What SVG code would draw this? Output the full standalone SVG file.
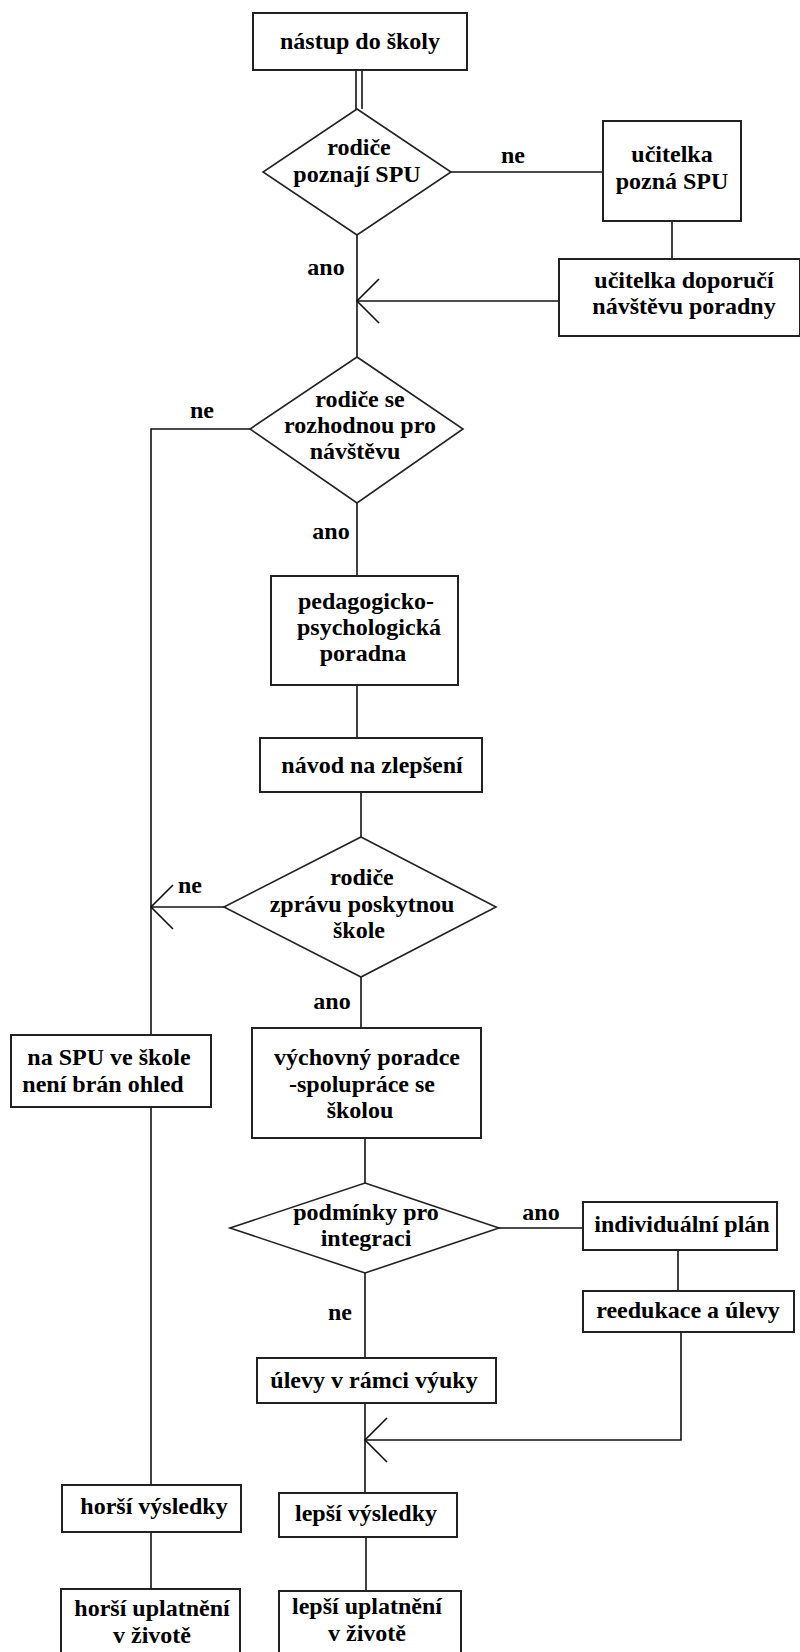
<svg xmlns="http://www.w3.org/2000/svg" width="800" height="1652" viewBox="0 0 800 1652">
<style>
.b{fill:#fff;stroke:#222;stroke-width:2}
.d{fill:#fff;stroke:#222;stroke-width:1.6}
.l{fill:none;stroke:#111;stroke-width:1.6}
.t{font-family:'Liberation Serif','DejaVu Serif',serif;font-weight:700;font-size:24px;fill:#000;text-anchor:middle}
</style>
<rect width="800" height="1652" fill="#fff"/>
<g id="connectors">
<line class="l" x1="356" y1="70" x2="356" y2="109"/>
<line class="l" x1="362" y1="70" x2="362" y2="109"/>
<line class="l" x1="451" y1="172" x2="603" y2="172"/>
<line class="l" x1="672" y1="221" x2="672" y2="259"/>
<line class="l" x1="357" y1="235" x2="357" y2="357"/>
<line class="l" x1="559" y1="301" x2="357" y2="301"/>
<polyline class="l" points="379,279 357,301 379,323"/>
<polyline class="l" points="250,429 151,429 151,1035"/>
<line class="l" x1="357" y1="503" x2="357" y2="576"/>
<line class="l" x1="357" y1="685" x2="357" y2="738"/>
<line class="l" x1="361" y1="792" x2="361" y2="837"/>
<line class="l" x1="224" y1="907" x2="151" y2="907"/>
<polyline class="l" points="173,885 151,907 173,929"/>
<line class="l" x1="361" y1="977" x2="361" y2="1028"/>
<line class="l" x1="365" y1="1138" x2="365" y2="1183"/>
<line class="l" x1="499" y1="1228" x2="583" y2="1228"/>
<line class="l" x1="678" y1="1250" x2="678" y2="1291"/>
<line class="l" x1="365" y1="1273" x2="365" y2="1358"/>
<line class="l" x1="365" y1="1403" x2="365" y2="1493"/>
<polyline class="l" points="681,1332 681,1440 365,1440"/>
<polyline class="l" points="387,1418 365,1440 387,1462"/>
<line class="l" x1="366" y1="1537" x2="366" y2="1591"/>
<line class="l" x1="151" y1="1107" x2="151" y2="1485"/>
<line class="l" x1="151" y1="1532" x2="151" y2="1589"/>
<g class="t" font-family="Liberation Serif, DejaVu Serif, serif" font-weight="bold">
<text x="513" y="163">ne</text>
<text x="326" y="275">ano</text>
<text x="202" y="418">ne</text>
<text x="331" y="539">ano</text>
<text x="190" y="893">ne</text>
<text x="332" y="1009">ano</text>
<text x="541" y="1220">ano</text>
<text x="340" y="1320">ne</text>
</g>
</g>
<g class="t" font-family="Liberation Serif, DejaVu Serif, serif" font-weight="bold">
<g id="n1"><rect class="b" x="253" y="13" width="214" height="57"/><text x="360" y="49">nástup do školy</text></g>
<g id="n2"><polygon class="d" points="357,109 451,172 357,235 263,172"/><text x="359" y="155">rodiče</text><text x="357" y="182">poznají SPU</text></g>
<g id="n3"><rect class="b" x="603" y="121" width="138" height="100"/><text x="672" y="162">učitelka</text><text x="672" y="189">pozná SPU</text></g>
<g id="n4"><rect class="b" x="559" y="259" width="241" height="77"/><text x="684" y="288">učitelka doporučí</text><text x="684" y="314">návštěvu poradny</text></g>
<g id="n5"><polygon class="d" points="357,357 463,429 357,503 250,429"/><text x="360" y="407">rodiče se</text><text x="360" y="433">rozhodnou pro</text><text x="355" y="459">návštěvu</text></g>
<g id="n6"><rect class="b" x="271" y="576" width="187" height="109"/><text x="366" y="609">pedagogicko-</text><text x="369" y="635">psychologická</text><text x="363" y="661">poradna</text></g>
<g id="n7"><rect class="b" x="260" y="738" width="222" height="54"/><text x="372" y="773">návod na zlepšení</text></g>
<g id="n8"><polygon class="d" points="361,837 496,907 361,977 224,907"/><text x="362" y="885">rodiče</text><text x="362" y="912">zprávu poskytnou</text><text x="359" y="938">škole</text></g>
<g id="n9"><rect class="b" x="252" y="1028" width="229" height="110"/><text x="367" y="1065">výchovný poradce</text><text x="362" y="1092">-spolupráce se</text><text x="360" y="1118">školou</text></g>
<g id="n10"><rect class="b" x="11" y="1035" width="200" height="72"/><text x="109" y="1065">na SPU ve škole</text><text x="103" y="1092">není brán ohled</text></g>
<g id="n11"><polygon class="d" points="365,1183 499,1228 365,1273 230,1228"/><text x="366" y="1220">podmínky pro</text><text x="366" y="1246">integraci</text></g>
<g id="n12"><rect class="b" x="583" y="1202" width="194" height="48"/><text x="682" y="1232">individuální plán</text></g>
<g id="n13"><rect class="b" x="583" y="1291" width="211" height="41"/><text x="688" y="1318">reedukace a úlevy</text></g>
<g id="n14"><rect class="b" x="257" y="1358" width="239" height="45"/><text x="374" y="1388">úlevy v rámci výuky</text></g>
<g id="n15"><rect class="b" x="62" y="1485" width="179" height="47"/><text x="154" y="1514">horší výsledky</text></g>
<g id="n16"><rect class="b" x="279" y="1493" width="178" height="44"/><text x="366" y="1521">lepší výsledky</text></g>
<g id="n17"><rect class="b" x="61" y="1589" width="179" height="80"/><text x="152" y="1616">horší uplatnění</text><text x="152" y="1643">v životě</text></g>
<g id="n18"><rect class="b" x="279" y="1591" width="182" height="80"/><text x="367" y="1614">lepší uplatnění</text><text x="367" y="1641">v životě</text></g>
</g>
</svg>
